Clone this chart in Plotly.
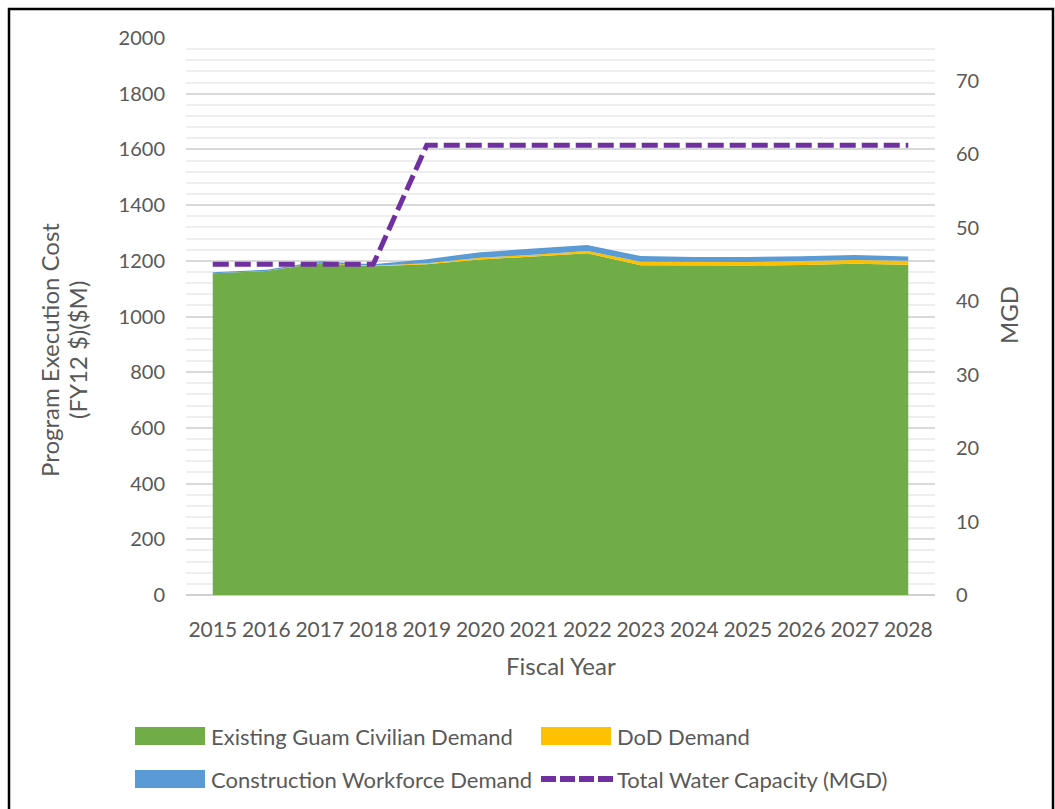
import plotly.graph_objects as go

years = [2015, 2016, 2017, 2018, 2019, 2020, 2021, 2022, 2023, 2024, 2025, 2026, 2027, 2028]
year_labels = [str(y) for y in years]
civilian = [1155, 1163, 1192, 1180, 1188, 1205, 1215, 1227, 1184, 1183, 1183, 1185, 1189, 1186]
dod = [0, 0, 1, 2, 3, 6, 7, 8, 13, 13, 13, 14, 14, 14]
construction = [4, 5, 5, 6, 15, 20, 22, 22, 20, 18, 18, 17, 18, 15]
capacity = [45, 45, 45, 45, 61.2, 61.2, 61.2, 61.2, 61.2, 61.2, 61.2, 61.2, 61.2, 61.2]

left_ticks = [0, 200, 400, 600, 800, 1000, 1200, 1400, 1600, 1800, 2000]
right_ticks = [0, 10, 20, 30, 40, 50, 60, 70]

GREEN = "#70AD47"
YELLOW = "#FFC000"
BLUE = "#5B9BD5"
PURPLE = "#7030A0"
TXT = "#595959"
FONT = "Lato"

W, H = 1055, 809
L, R, T, B = 186, 935, 38, 595

def px(x):
    return (x - L) / (R - L)

def py(y):
    return (B - y) / (B - T)

fig = go.Figure()
fig.add_trace(go.Scatter(x=years, y=civilian, stackgroup="d", mode="lines",
                         line=dict(width=0, color=GREEN), fillcolor=GREEN,
                         name="Existing Guam Civilian Demand", showlegend=False))
fig.add_trace(go.Scatter(x=years, y=dod, stackgroup="d", mode="lines",
                         line=dict(width=0, color=YELLOW), fillcolor=YELLOW,
                         name="DoD Demand", showlegend=False))
fig.add_trace(go.Scatter(x=years, y=construction, stackgroup="d", mode="lines",
                         line=dict(width=0, color=BLUE), fillcolor=BLUE,
                         name="Construction Workforce Demand", showlegend=False))
fig.add_trace(go.Scatter(x=years, y=capacity, yaxis="y2", mode="lines",
                         line=dict(width=5, color=PURPLE, dash="16px,6px"),
                         name="Total Water Capacity (MGD)", showlegend=False))

tickfont = dict(family=FONT, size=20, color=TXT)
xtickfont = dict(family=FONT, size=21, color=TXT)

fig.update_layout(
    width=W, height=H,
    margin=dict(l=L, r=W - R, t=T, b=H - B),
    paper_bgcolor="white", plot_bgcolor="white",
    showlegend=False,
    font=dict(family=FONT, color=TXT),
    xaxis=dict(range=[2014.5, 2028.5], tickmode="array", tickvals=years, ticktext=year_labels,
               showgrid=False, zeroline=False, showline=False, ticks="",
               tickfont=xtickfont, ticklabelstandoff=20),
    yaxis=dict(range=[0, 2000], tickmode="array", tickvals=left_ticks,
               showgrid=True, gridcolor="#D9D9D9", gridwidth=1.5,
               minor=dict(dtick=40, tick0=0, showgrid=True, gridcolor="#EEEEEE", gridwidth=1.5),
               zeroline=True, zerolinecolor="#D0D0D0", zerolinewidth=2,
               showline=False, ticks="", tickfont=tickfont, ticklabelstandoff=20),
    yaxis2=dict(range=[0, 75.8], overlaying="y", side="right", tickmode="array",
                tickvals=right_ticks, showgrid=False, zeroline=False, showline=False,
                ticks="", tickfont=tickfont, ticklabelstandoff=20),
)

annotations = [
    dict(text="Program Execution Cost", x=px(49), y=py(350), textangle=-90,
         font=dict(family=FONT, size=24, color=TXT)),
    dict(text="(FY12 $)($M)", x=px(77), y=py(350), textangle=-90,
         font=dict(family=FONT, size=24, color=TXT)),
    dict(text="MGD", x=px(1008), y=py(315), textangle=-90,
         font=dict(family=FONT, size=24, color=TXT)),
    dict(text="Fiscal Year", x=px(561), y=py(665),
         font=dict(family=FONT, size=24, color=TXT)),
]
legend_items = [
    ("Existing Guam Civilian Demand", 135, 736, "box", GREEN),
    ("DoD Demand", 541, 736, "box", YELLOW),
    ("Construction Workforce Demand", 135, 779, "box", BLUE),
    ("Total Water Capacity (MGD)", 541, 779, "line", PURPLE),
]
shapes = []
for label, x0, yc, kind, col in legend_items:
    if kind == "box":
        shapes.append(dict(type="rect", xref="paper", yref="paper",
                           x0=px(x0), x1=px(x0 + 70), y0=py(yc - 9), y1=py(yc + 9),
                           fillcolor=col, line=dict(width=0)))
    else:
        shapes.append(dict(type="line", xref="paper", yref="paper",
                           x0=px(x0), x1=px(x0 + 72), y0=py(yc), y1=py(yc),
                           line=dict(color=col, width=6, dash="15px,4px")))
    annotations.append(dict(text=label, x=px(x0 + 74), y=py(yc), xanchor="left",
                            font=dict(family=FONT, size=22, color=TXT)))

shapes.append(dict(type="rect", xref="paper", yref="paper",
                   x0=px(9), x1=px(1053), y0=py(9), y1=py(830),
                   line=dict(color="black", width=2.5), fillcolor="rgba(0,0,0,0)"))

for a in annotations:
    a.setdefault("xref", "paper")
    a.setdefault("yref", "paper")
    a.setdefault("showarrow", False)
    a.setdefault("xanchor", "center")
    a.setdefault("yanchor", "middle")

fig.update_layout(annotations=annotations, shapes=shapes)
fig.write_html("out.html", config={"displayModeBar": False},
               post_script="document.body.style.margin='0px';document.body.style.padding='0px';")
